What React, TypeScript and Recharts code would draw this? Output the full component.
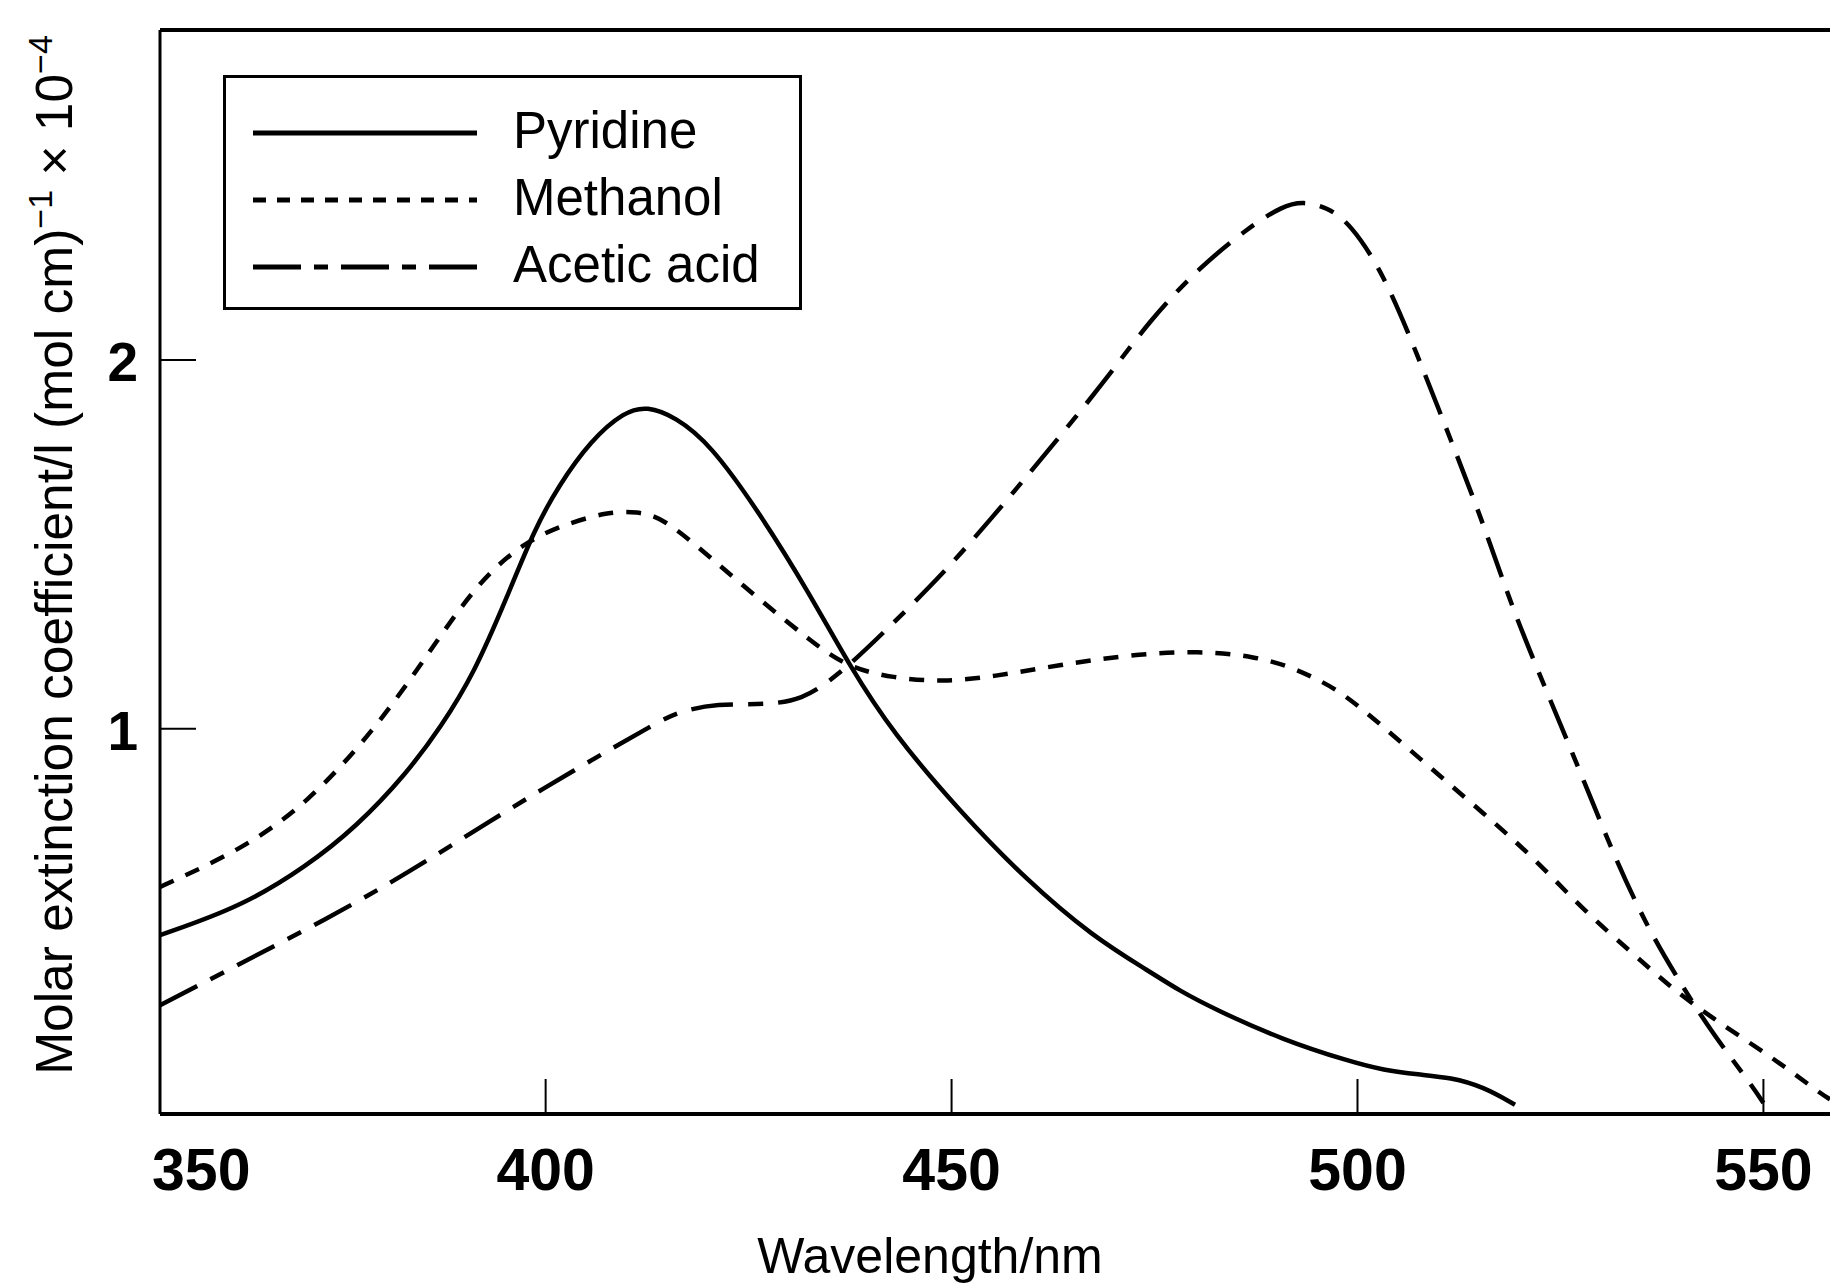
import { LineChart, Line, XAxis, YAxis, Legend, ReferenceLine } from "recharts";

// absorption spectra (wavelength in nm, value x 10^-4)
const seriesNames = ["Pyridine", "Methanol", "Acetic acid"];

const pyridineNm = [
  352.5, 362.5, 370.5, 376.7, 382.9, 387.1, 391.2, 395.3, 398.6, 401.5, 405.6,
  409.7, 412.5, 416, 420.2, 426.4, 432.5, 437.5, 442.8, 451, 459.2, 467.4,
  474.5, 478, 482.6, 490.8, 499.1, 503.2, 507.5, 511.5, 515.5, 519.4,
];
const pyridineVal = [
  0.44, 0.517, 0.626, 0.734, 0.879, 1.005, 1.15, 1.36, 1.539, 1.656, 1.783,
  1.86, 1.875, 1.845, 1.774, 1.584, 1.367, 1.168, 0.988, 0.776, 0.59, 0.436,
  0.34, 0.29, 0.237, 0.156, 0.097, 0.074, 0.062, 0.054, 0.029, -0.02,
];

const methanolNm = [
  352.5, 362.5, 370.7, 378.9, 385, 389.5, 393.3, 397.4, 401.5, 407.6, 411.3,
  414.5, 420.2, 426.4, 432.5, 437, 442.8, 449, 455.1, 463.3, 471.6, 480.6,
  487.6, 491.7, 495, 498.3, 503.2, 509.3, 515.5, 521.6, 527.8, 533.9, 538.5,
  543.4, 551.6, 557, 558.2,
];
const methanolVal = [
  0.571, 0.671, 0.798, 0.996, 1.186, 1.33, 1.43, 1.503, 1.548, 1.589, 1.589,
  1.572, 1.466, 1.349, 1.241, 1.168, 1.137, 1.127, 1.141, 1.173, 1.2, 1.212,
  1.195, 1.168, 1.135, 1.095, 1.005, 0.888, 0.771, 0.653, 0.508, 0.391, 0.3,
  0.219, 0.101, 0.011, -0.005,
];

const aceticNm = [
  352.5, 362.5, 372.8, 383, 393.3, 403.5, 414, 416.3, 421, 427.6, 431.7, 434.6,
  437.9, 442.8, 449, 455.1, 461.3, 468.7, 474.4, 480.6, 486.7, 490.8, 493.3,
  496.2, 499.1, 503.2, 507.3, 511.5, 515.5, 519, 523.5, 527.5, 531.5, 535.5,
  539.3, 543.4, 548.4, 550,
];
const aceticVal = [
  0.25, 0.364, 0.481, 0.608, 0.752, 0.888, 1.02, 1.045, 1.069, 1.064, 1.082,
  1.123, 1.182, 1.286, 1.421, 1.575, 1.738, 1.937, 2.108, 2.253, 2.361, 2.418,
  2.43, 2.415, 2.371, 2.235, 2.018, 1.783, 1.557, 1.33, 1.09, 0.88, 0.66,
  0.47, 0.327, 0.183, 0.038, -0.015,
];

const X_MIN = 352.5;
const X_MAX = 558.2;
const Y_MIN = -0.045;
const Y_MAX = 2.895;

const xTicks = [X_MIN, 400, 450, 500, 550];
const xTickLabels = ["350", "400", "450", "500", "550"];
const yTicks = [1, 2];

const toPoints = (nm: number[], val: number[]) =>
  nm.map((x, i) => ({ nm: x, v: val[i] }));

const pyridineData = toPoints(pyridineNm, pyridineVal);
const methanolData = toPoints(methanolNm, methanolVal);
const aceticData = toPoints(aceticNm, aceticVal);

const FONT = '"Liberation Sans", Arial, Helvetica, sans-serif';
const lineDash = [undefined, "15 13", "42 15 15 15"];
const legendDash = [undefined, "13 11", "48 13 14 13"];

function XTick(props: any) {
  const { x, y, payload } = props;
  const i = xTicks.indexOf(payload.value);
  const first = i === 0;
  return (
    <g>
      {!first && (
        <line x1={x} x2={x} y1={y} y2={y - 35} stroke="#000" strokeWidth={2} />
      )}
      <text
        x={first ? x - 8 : x}
        y={y + 76}
        textAnchor={first ? "start" : "middle"}
        fontSize={59}
        fontWeight="bold"
        fontFamily={FONT}
        fill="#000"
      >
        {xTickLabels[i]}
      </text>
    </g>
  );
}

function YTick(props: any) {
  const { x, y, payload } = props;
  return (
    <g>
      <line x1={x} x2={x + 36} y1={y} y2={y} stroke="#000" strokeWidth={2} />
      <text
        x={x - 22}
        y={y + 21}
        textAnchor="end"
        fontSize={55}
        fontWeight="bold"
        fontFamily={FONT}
        fill="#000"
      >
        {payload.value}
      </text>
    </g>
  );
}

function YTitle(props: any) {
  const { viewBox } = props;
  const cx = viewBox.x + 72;
  const cy = viewBox.y + viewBox.height / 2 - 17;
  return (
    <text
      x={cx}
      y={cy}
      transform={`rotate(-90, ${cx}, ${cy})`}
      textAnchor="middle"
      fontSize={51.5}
      fontFamily={FONT}
      fill="#000"
    >
      Molar extinction coefficient/l (mol cm)
      <tspan dy={-20} fontSize={34}>−1</tspan>
      <tspan dy={20}> × 10</tspan>
      <tspan dy={-20} fontSize={34}>−4</tspan>
    </text>
  );
}

function XTitle(props: any) {
  const { viewBox } = props;
  return (
    <text
      x={viewBox.x + viewBox.width / 2 - 65}
      y={viewBox.y + 159}
      textAnchor="middle"
      fontSize={50}
      fontFamily={FONT}
      fill="#000"
    >
      Wavelength/nm
    </text>
  );
}

function LegendBox(props: any) {
  const items = [...(props.payload ?? [])].sort(
    (a: any, b: any) => seriesNames.indexOf(a.value) - seriesNames.indexOf(b.value)
  );
  return (
    <div
      style={{
        width: 579,
        height: 235,
        border: "3px solid #000",
        boxSizing: "border-box",
        background: "#fff",
      }}
    >
      <svg width={573} height={229} style={{ display: "block" }}>
        {items.map((it: any, i: number) => {
          const ly = 55 + i * 67;
          return (
            <g key={it.value}>
              <line
                x1={27}
                x2={251}
                y1={ly}
                y2={ly}
                stroke="#000"
                strokeWidth={5}
                strokeDasharray={legendDash[seriesNames.indexOf(it.value)]}
              />
              <text x={287} y={ly + 15} fontSize={51} fontFamily={FONT} fill="#000">
                {it.value}
              </text>
            </g>
          );
        })}
      </svg>
    </div>
  );
}

export default function App() {
  return (
    <div style={{ position: "absolute", left: 0, top: 0, background: "#fff" }}>
      <LineChart
        width={1830}
        height={1288}
        margin={{ top: 30, right: 0, left: 0, bottom: 0 }}
      >
        <XAxis
          type="number"
          dataKey="nm"
          domain={[X_MIN, X_MAX]}
          allowDataOverflow
          ticks={xTicks}
          interval={0}
          tickLine={false}
          tickSize={0}
          tickMargin={0}
          tick={XTick}
          height={174}
          axisLine={{ stroke: "#000", strokeWidth: 4 }}
          label={{ content: XTitle }}
        />
        <YAxis
          type="number"
          domain={[Y_MIN, Y_MAX]}
          allowDataOverflow
          ticks={yTicks}
          interval={0}
          tickLine={false}
          tickSize={0}
          tickMargin={0}
          tick={YTick}
          width={160}
          axisLine={{ stroke: "#000", strokeWidth: 3 }}
          label={{ content: YTitle }}
        />
        <ReferenceLine y={Y_MAX} stroke="#000" strokeWidth={4} />
        <Legend
          layout="horizontal"
          verticalAlign="middle"
          align="center"
          wrapperStyle={{ left: 223, top: 75, width: 579, height: 235 }}
          content={LegendBox}
        />
        <Line
          data={pyridineData}
          dataKey="v"
          name={seriesNames[0]}
          type="basis"
          stroke="#000"
          strokeWidth={4.5}
          strokeDasharray={lineDash[0]}
          dot={false}
          isAnimationActive={false}
        />
        <Line
          data={methanolData}
          dataKey="v"
          name={seriesNames[1]}
          type="basis"
          stroke="#000"
          strokeWidth={4.5}
          strokeDasharray={lineDash[1]}
          dot={false}
          isAnimationActive={false}
        />
        <Line
          data={aceticData}
          dataKey="v"
          name={seriesNames[2]}
          type="basis"
          stroke="#000"
          strokeWidth={4.5}
          strokeDasharray={lineDash[2]}
          dot={false}
          isAnimationActive={false}
        />
      </LineChart>
    </div>
  );
}
